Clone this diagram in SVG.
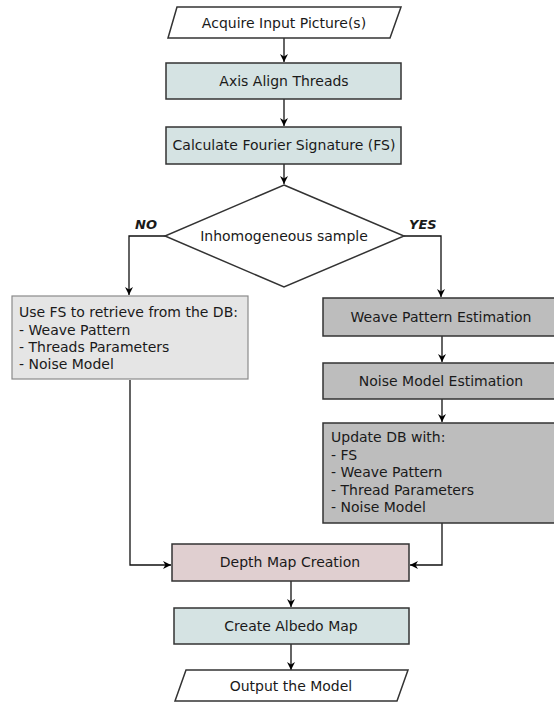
<svg xmlns="http://www.w3.org/2000/svg" width="554" height="702" viewBox="0 0 554 702">
<defs>
<marker id="ah" viewBox="0 0 10 10" refX="10" refY="5" markerWidth="8" markerHeight="8" markerUnits="userSpaceOnUse" orient="auto">
<path d="M0,0 L10,5 L0,10 L3,5 Z" fill="#000"/>
</marker>
<style>
text{font-family:"DejaVu Sans",Verdana,sans-serif;font-size:14px;fill:#1a1a1a}
.c{text-anchor:middle}
.b{stroke:#333;stroke-width:1.5}
.teal{fill:#d5e3e3}
.grey{fill:#bdbdbd}
.light{fill:#e5e5e5;stroke:#8a8a8a;stroke-width:1.2}
.pink{fill:#e0cfd0}
.w{fill:#fff}
.lbl{font-weight:bold;font-style:italic;font-size:13px}
.conn{fill:none;stroke:#111;stroke-width:1.3;marker-end:url(#ah)}
</style>
</defs>
<rect width="554" height="702" fill="#fff"/>
<g id="connectors">
<path class="conn" d="M284,38 V62"/>
<path class="conn" d="M284,99 V126"/>
<path class="conn" d="M284,164 V184"/>
<path class="conn" d="M165,236 H129 V295"/>
<path class="conn" d="M404,236 H441 V297"/>
<path class="conn" d="M442,336 V362"/>
<path class="conn" d="M442,399 V422"/>
<path class="conn" d="M130,380 V565 H171"/>
<path class="conn" d="M442,523 V565 H410"/>
<path class="conn" d="M291,581 V607"/>
<path class="conn" d="M291,644 V670"/>
</g>
<g id="acquire">
<polygon class="w b" points="177,7 401,7 390,38 168,38"/>
<text class="c" x="284" y="28">Acquire Input Picture(s)</text>
</g>
<g id="axis">
<rect class="teal b" x="166" y="63" width="235" height="36"/>
<text class="c" x="284" y="86">Axis Align Threads</text>
</g>
<g id="fourier">
<rect class="teal b" x="166" y="127" width="235" height="37"/>
<text class="c" x="284" y="150">Calculate Fourier Signature (FS)</text>
</g>
<g id="decision">
<polygon class="w b" points="284,185 404,236 284,287 165,236"/>
<text class="c" x="284" y="241">Inhomogeneous sample</text>
<text class="lbl" x="135" y="229">NO</text>
<text class="lbl" x="409" y="229">YES</text>
</g>
<g id="retrieve">
<rect class="light" x="12" y="296" width="236" height="83"/>
<text x="19" y="317">Use FS to retrieve from the DB:</text>
<text x="19" y="335">- Weave Pattern</text>
<text x="19" y="352">- Threads Parameters</text>
<text x="19" y="369">- Noise Model</text>
</g>
<g id="weave">
<rect class="grey b" x="323" y="298" width="240" height="38"/>
<text class="c" x="441" y="322">Weave Pattern Estimation</text>
</g>
<g id="noise">
<rect class="grey b" x="323" y="363" width="240" height="36"/>
<text class="c" x="441" y="386">Noise Model Estimation</text>
</g>
<g id="update">
<rect class="grey b" x="323" y="423" width="240" height="100"/>
<text x="331" y="442">Update DB with:</text>
<text x="331" y="460">- FS</text>
<text x="331" y="477">- Weave Pattern</text>
<text x="331" y="495">- Thread Parameters</text>
<text x="331" y="512">- Noise Model</text>
</g>
<g id="depth">
<rect class="pink b" x="172" y="544" width="237" height="37"/>
<text class="c" x="290" y="567">Depth Map Creation</text>
</g>
<g id="albedo">
<rect class="teal b" x="174" y="608" width="235" height="36"/>
<text class="c" x="291" y="631">Create Albedo Map</text>
</g>
<g id="output">
<polygon class="w b" points="186,670 408,670 397,701 175,701"/>
<text class="c" x="291" y="691">Output the Model</text>
</g>
</svg>
